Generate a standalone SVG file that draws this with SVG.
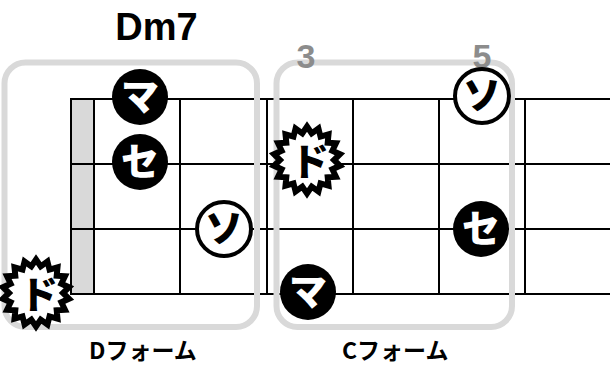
<svg xmlns="http://www.w3.org/2000/svg" xmlns:xlink="http://www.w3.org/1999/xlink" width="610" height="366" viewBox="0 0 610 366">
<style>
.str{stroke:#000;stroke-width:2;fill:none}
.frame{fill:none;stroke:#d9d9d9;stroke-width:6}
.num{font-family:"Liberation Sans",Arial,sans-serif;font-weight:bold;font-size:34px;fill:#8c8c8c;text-anchor:middle}
.kana{font-family:"Noto Sans CJK JP",sans-serif;font-weight:900;font-size:38px;text-anchor:middle}
.dot{fill:#000}
.ring{fill:#fff;stroke:#000;stroke-width:4}
.burst{fill:#fff;stroke:#000;stroke-width:5.5;stroke-linejoin:miter;stroke-miterlimit:10}
.lbl{font-family:"Noto Sans CJK JP",sans-serif;font-weight:bold;font-size:23px;fill:#000}
</style>
<defs>
<polygon id="burstShape" points="0,-31 4.34,-24.62 10.6,-29.13 12.5,-21.65 19.93,-23.75 19.15,-16.07 26.85,-15.5 23.49,-8.55 30.53,-5.38 25,0 30.53,5.38 23.49,8.55 26.85,15.5 19.15,16.07 19.93,23.75 12.5,21.65 10.6,29.13 4.34,24.62 0,31 -4.34,24.62 -10.6,29.13 -12.5,21.65 -19.93,23.75 -19.15,16.07 -26.85,15.5 -23.49,8.55 -30.53,5.38 -25,0 -30.53,-5.38 -23.49,-8.55 -26.85,-15.5 -19.15,-16.07 -19.93,-23.75 -12.5,-21.65 -10.6,-29.13 -4.34,-24.62"/>
</defs>
<rect width="610" height="366" fill="#fff"/>
<text id="title" x="156.5" y="40" font-family="Liberation Sans, Arial, sans-serif" font-weight="bold" font-size="38" text-anchor="middle">Dm7</text>
<g id="connectors">
<rect x="71" y="99" width="23" height="195" fill="#d9d9d9"/>
<line class="str" x1="70" y1="99" x2="610" y2="99"/>
<line class="str" x1="70" y1="164" x2="610" y2="164"/>
<line class="str" x1="70" y1="229" x2="610" y2="229"/>
<line class="str" x1="70" y1="294" x2="610" y2="294"/>
<line class="str" x1="71" y1="99" x2="71" y2="294"/>
<line class="str" x1="94" y1="99" x2="94" y2="294"/>
<line class="str" x1="180" y1="99" x2="180" y2="294"/>
<line class="str" x1="267" y1="99" x2="267" y2="294"/>
<line class="str" x1="353" y1="99" x2="353" y2="294"/>
<line class="str" x1="439" y1="99" x2="439" y2="294"/>
<line class="str" x1="525" y1="99" x2="525" y2="294"/>
</g>
<g id="frame-d"><rect class="frame" x="4.5" y="62.5" width="252.5" height="264.5" rx="21"/></g>
<g id="frame-c"><rect class="frame" x="276.5" y="62.5" width="235.5" height="264.5" rx="21"/></g>
<g id="fret-3"><text class="num" x="306" y="68">3</text></g>
<g id="fret-5"><text class="num" x="482" y="68">5</text></g>
<g id="d-ma"><circle class="dot" cx="140" cy="97" r="28"/><text class="kana" x="140" y="110" fill="#fff">マ</text></g>
<g id="d-se"><circle class="dot" cx="140" cy="162" r="28"/><text class="kana" x="140" y="175" fill="#fff">セ</text></g>
<g id="d-so"><circle class="ring" cx="224" cy="229" r="27"/><text class="kana" x="224" y="242" fill="#000">ソ</text></g>
<g id="d-do"><use xlink:href="#burstShape" class="burst" transform="translate(36,293) scale(1.08)"/><text class="kana" x="39" y="308" font-size="40" fill="#000">ド</text></g>
<g id="c-do"><use xlink:href="#burstShape" class="burst" transform="translate(307,160) scale(1.08)"/><text class="kana" x="310" y="175" font-size="40" fill="#000">ド</text></g>
<g id="c-ma"><circle class="dot" cx="308" cy="292" r="28"/><text class="kana" x="308" y="305" fill="#fff">マ</text></g>
<g id="c-so"><circle class="ring" cx="482" cy="96" r="27"/><text class="kana" x="482" y="109" fill="#000">ソ</text></g>
<g id="c-se"><circle class="dot" cx="481" cy="229" r="28"/><text class="kana" x="481" y="242" fill="#fff">セ</text></g>
<g id="label-d"><text class="lbl" x="89" y="359">Dフォーム</text></g>
<g id="label-c"><text class="lbl" x="342" y="359">Cフォーム</text></g>
</svg>
